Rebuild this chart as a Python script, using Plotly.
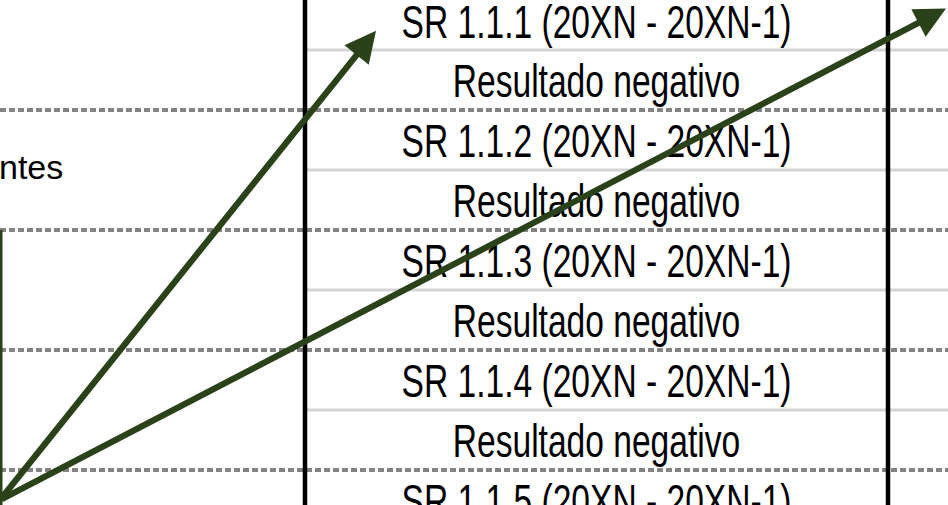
import plotly.graph_objects as go

# ---- data ----
row_labels = [
    "SR 1.1.1 (20XN - 20XN-1)", "Resultado negativo",
    "SR 1.1.2 (20XN - 20XN-1)", "Resultado negativo",
    "SR 1.1.3 (20XN - 20XN-1)", "Resultado negativo",
    "SR 1.1.4 (20XN - 20XN-1)", "Resultado negativo",
    "SR 1.1.5 (20XN - 20XN-1)",
]
row_index = list(range(len(row_labels)))
solid_rules = [0.5, 2.5, 4.5, 6.5]     # light grey separators inside table
dashed_rules = [1.5, 3.5, 5.5, 7.5]    # grey dashed guides across page
side_label = "ntes"
side_label_row = 2.515
table_left, table_right = 305, 888
arrow_tail = (0, 8.0)
arrow_tips = [(376, 0.18), (946, -0.19)]

GREEN = "#2B4119"
FONT = "Liberation Sans, Arial, sans-serif"

fig = go.Figure()

shapes = []
for r in solid_rules:
    shapes.append(dict(type="line", xref="x", yref="y", x0=table_left, x1=948, y0=r, y1=r,
                       line=dict(color="#D4D4D4", width=3), layer="below"))
for r in dashed_rules:
    shapes.append(dict(type="line", xref="x", yref="y", x0=0, x1=948, y0=r, y1=r,
                       line=dict(color="#848484", width=4, dash="6px,3px"), layer="below"))
for xb in (table_left, table_right):
    shapes.append(dict(type="line", xref="x", yref="y", x0=xb, x1=xb, y0=-1, y1=9,
                       line=dict(color="black", width=4.5), layer="above"))
shapes.append(dict(type="line", xref="x", yref="y", x0=1, x1=1, y0=3.5, y1=9,
                   line=dict(color=GREEN, width=3), layer="above"))

fig.add_trace(go.Scatter(
    x=[(table_left + table_right) / 2] * len(row_labels), y=[r + 0.1 for r in row_index],
    mode="text", text=row_labels, textposition="middle center",
    textfont=dict(family=FONT, size=46, color="black"), hoverinfo="skip", showlegend=False,
    name="rows",
))
fig.add_trace(go.Scatter(
    x=[-1], y=[side_label_row], mode="text", text=[side_label], textposition="middle right",
    textfont=dict(family=FONT, size=34, color="black"), hoverinfo="skip", showlegend=False,
    name="side",
))

annotations = []
for tx, ty in arrow_tips:
    annotations.append(dict(x=tx, y=ty, xref="x", yref="y", ax=arrow_tail[0], ay=arrow_tail[1],
                            axref="x", ayref="y", text="", showarrow=True, arrowhead=2,
                            arrowsize=1.0, arrowwidth=6.2, arrowcolor=GREEN, standoff=0))

fig.update_layout(
    width=948, height=505, margin=dict(l=0, r=0, t=0, b=0),
    paper_bgcolor="white", plot_bgcolor="white",
    xaxis=dict(range=[0, 948], visible=False, fixedrange=True),
    yaxis=dict(range=[(505 - 20) / 60, -20 / 60], visible=False, fixedrange=True),
    shapes=shapes, annotations=annotations,
)

post = """
document.body.style.margin = '0';
document.body.style.overflow = 'hidden';
var style = document.createElement('style');
style.textContent = '.scatterlayer .trace:first-child .textpoint text {transform-box: fill-box; transform-origin: center; transform: scaleX(0.73);}';
document.head.appendChild(style);
"""
fig.write_html("out.html", post_script=post, config={"staticPlot": True})
